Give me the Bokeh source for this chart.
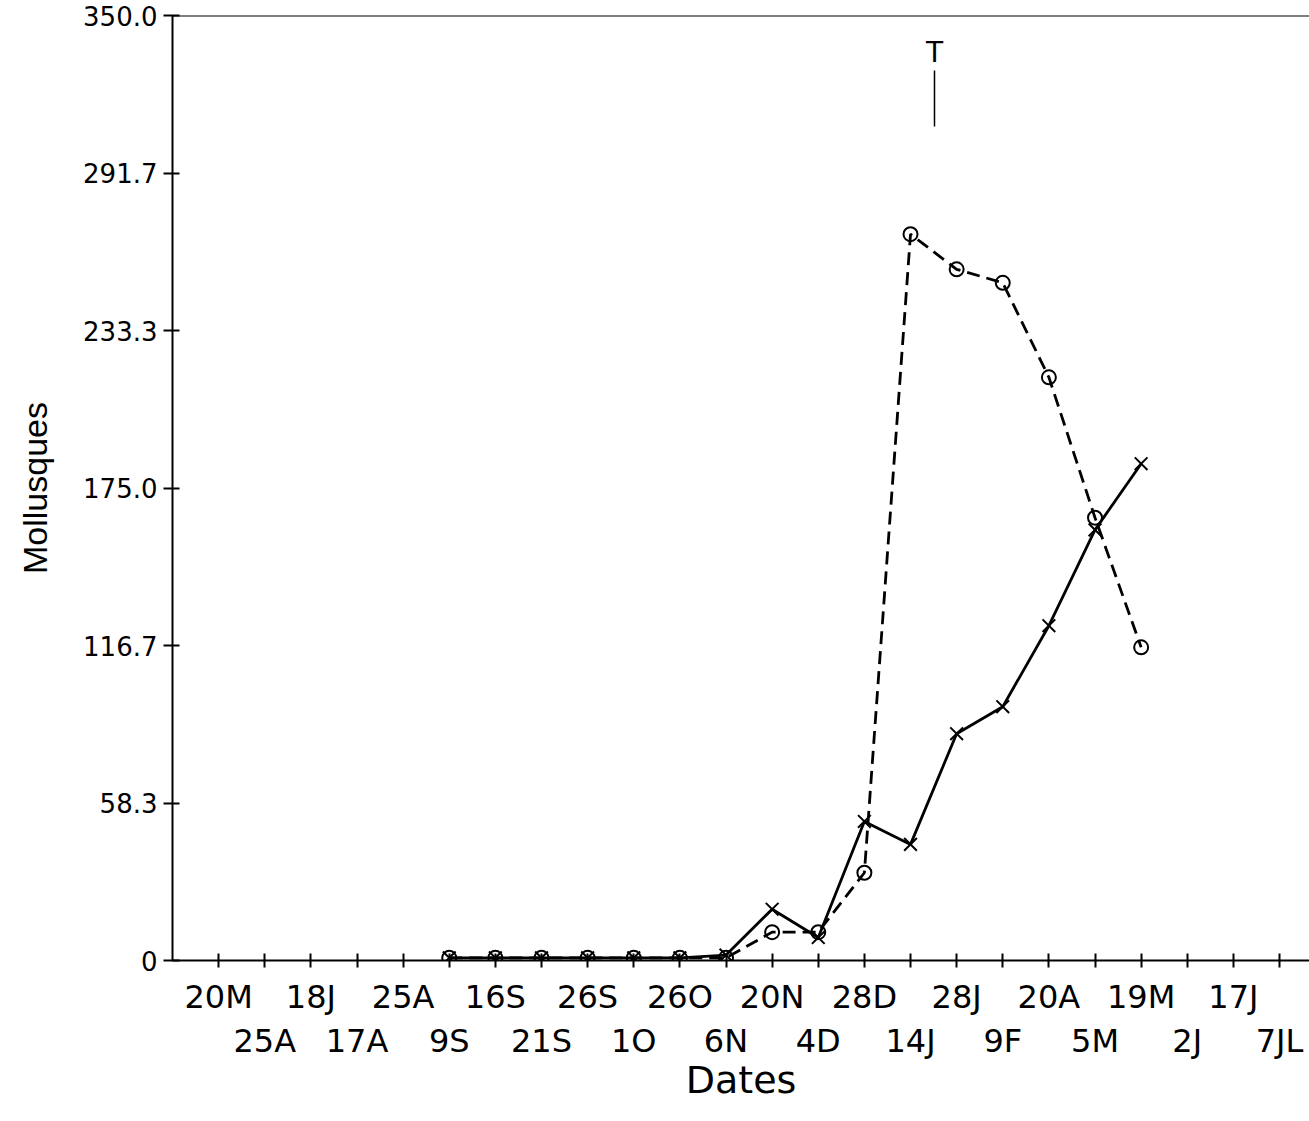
import numpy as np
from bokeh.plotting import figure
from bokeh.models import (ColumnDataSource, Range1d, LinearAxis, FixedTicker, Span,
                          AllLabels, PrintfTickFormatter, Label)
from bokeh.embed import file_html
from bokeh.resources import INLINE

# ---- data ----
dates = ["20M", "25A", "18J", "17A", "25A", "9S", "16S", "21S", "26S", "1O", "26O", "6N",
         "20N", "4D", "28D", "14J", "28J", "9F", "20A", "5M", "19M", "2J", "17J", "7JL"]
series_x = [None, None, None, None, None, 1, 1, 1, 1, 1, 1, 2,
            19, 8.5, 51.5, 43, 84, 94, 124, 159.5, 184, None, None, None]
series_o = [None, None, None, None, None, 1, 1, 1, 1, 1, 1, 1,
            10.5, 10.5, 32.5, 269, 256, 251, 216, 164, 116, None, None, None]
y_ticks = [0, 350 / 6, 700 / 6, 175.0, 1400 / 6, 1750 / 6, 350.0]
y_max = 350.0
t_mark_x = 15.52          # position of the "T" mark (between 14J and 28J)
t_mark_text_y = 336.3
t_mark_line = (329.6, 308.9)

idx = list(range(len(dates)))
to_f = lambda a: [np.nan if v is None else float(v) for v in a]
src = ColumnDataSource(dict(x=idx, sx=to_f(series_x), so=to_f(series_o)))

FONT = "DejaVu Sans"

p = figure(frame_width=1137, frame_height=945,
           x_range=Range1d(-1, 23.65), y_range=Range1d(0, y_max),
           x_axis_type=None, y_axis_type=None,
           output_backend="svg", toolbar_location=None,
           min_border_left=172, min_border_right=0, min_border_top=15, min_border_bottom=0)
p.outline_line_color = None
p.background_fill_color = "white"
p.border_fill_color = "white"

# y axis
yaxis = LinearAxis(ticker=FixedTicker(ticks=y_ticks),
                   formatter=PrintfTickFormatter(format="%.1f"),
                   major_label_overrides={0: "0"},
                   axis_label="Mollusques")
yaxis.axis_line_width = 2
yaxis.major_tick_line_width = 2
yaxis.major_tick_in = 7
yaxis.major_tick_out = 9
yaxis.minor_tick_line_color = None
yaxis.major_label_standoff = 6
yaxis.major_label_text_font = FONT
yaxis.major_label_text_font_size = "26px"
yaxis.major_label_text_color = "black"
yaxis.axis_label_text_font = "Liberation Sans"
yaxis.axis_label_text_font_size = "34px"
yaxis.axis_label_text_font_style = "normal"
yaxis.axis_label_text_color = "black"
yaxis.axis_label_standoff = 26
yaxis.major_label_policy = AllLabels()
p.add_layout(yaxis, "left")

# x axis, first row (even positions) with all ticks
xaxis1 = LinearAxis(ticker=FixedTicker(ticks=idx),
                    major_label_overrides={i: (dates[i] if i % 2 == 0 else "") for i in idx})
xaxis1.axis_line_width = 2
xaxis1.major_tick_line_width = 2
xaxis1.major_tick_in = 7
xaxis1.major_tick_out = 7
xaxis1.minor_tick_line_color = None
xaxis1.major_label_standoff = 10
xaxis1.major_label_text_font = FONT
xaxis1.major_label_text_font_size = "32px"
xaxis1.major_label_text_color = "black"
xaxis1.major_label_policy = AllLabels()
p.add_layout(xaxis1, "below")

# x axis, second row (odd positions)
odd = [i for i in idx if i % 2 == 1]
xaxis2 = LinearAxis(ticker=FixedTicker(ticks=odd),
                    major_label_overrides={i: dates[i] for i in odd},
                    axis_label="Dates")
xaxis2.axis_line_color = None
xaxis2.major_tick_line_color = None
xaxis2.major_tick_in = 0
xaxis2.major_tick_out = 0
xaxis2.minor_tick_line_color = None
xaxis2.major_label_standoff = 3
xaxis2.major_label_text_font = FONT
xaxis2.major_label_text_font_size = "32px"
xaxis2.major_label_text_color = "black"
xaxis2.axis_label_text_font = FONT
xaxis2.axis_label_text_font_size = "38px"
xaxis2.axis_label_text_font_style = "normal"
xaxis2.axis_label_text_color = "black"
xaxis2.axis_label_standoff = -5
xaxis2.major_label_policy = AllLabels()
p.add_layout(xaxis2, "below")

# top frame line
p.add_layout(Span(location=y_max, dimension="width", line_color="black", line_width=2))

# series
p.line("x", "sx", source=src, line_color="black", line_width=2.8)
p.scatter("x", "sx", source=src, marker="x", size=18, line_color="black", line_width=2)
p.line("x", "so", source=src, line_color="black", line_width=2.8, line_dash="13 7")
p.scatter("x", "so", source=src, marker="circle", size=14, line_color="black",
          line_width=2, fill_color=None)

# "T" marker
p.add_layout(Label(x=t_mark_x, y=t_mark_text_y, text="T", text_font=FONT,
                   text_font_size="28px", text_align="center", text_baseline="alphabetic",
                   text_color="black"))
p.segment(x0=[t_mark_x], y0=[t_mark_line[0]], x1=[t_mark_x], y1=[t_mark_line[1]],
          line_color="black", line_width=1.5)

open("out.html", "w").write(file_html(p, INLINE))
